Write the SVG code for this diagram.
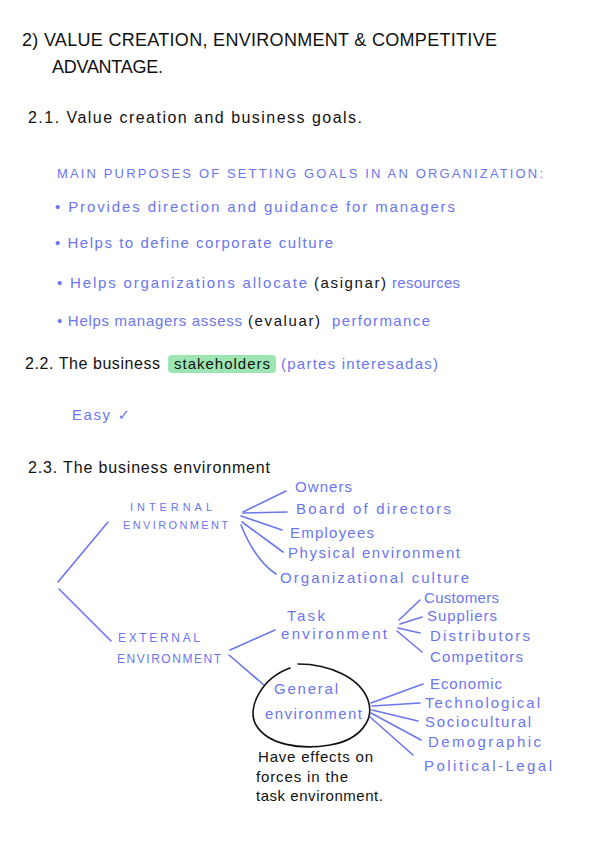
<svg xmlns="http://www.w3.org/2000/svg" width="600" height="848" viewBox="0 0 600 848">
<style>
text{font-family:"Liberation Sans","DejaVu Sans",sans-serif;}
.k{fill:#111;}
.b{fill:#6b76ef;}
.cap{font-size:13px;}
.s{font-size:15px;}
.c{stroke:#6b76ef;stroke-width:1.6;fill:none;stroke-linecap:round;}
</style>
<rect width="600" height="848" fill="#fff"/>
<g id="title">
<text class="k" x="22" y="46" font-size="18" textLength="475" lengthAdjust="spacing">2) VALUE   CREATION, ENVIRONMENT   &amp; COMPETITIVE</text>
<text class="k" x="52" y="73" font-size="18" textLength="111" lengthAdjust="spacing">ADVANTAGE.</text>
</g>
<g id="s21">
<text class="k" x="28" y="123" font-size="16" textLength="334" lengthAdjust="spacing">2.1. Value creation and business goals.</text>
<text class="b cap" x="57" y="178" textLength="486" lengthAdjust="spacing">MAIN PURPOSES OF SETTING GOALS IN AN ORGANIZATION:</text>
<text class="b s" x="55" y="212" textLength="400" lengthAdjust="spacing">• Provides direction and guidance for managers</text>
<text class="b s" x="55" y="248" textLength="278" lengthAdjust="spacing">• Helps to define corporate culture</text>
<text class="b s" x="57" y="288" textLength="250" lengthAdjust="spacing">• Helps organizations allocate</text>
<text class="k s" x="314" y="288" textLength="72" lengthAdjust="spacing">(asignar)</text>
<text class="b s" x="392" y="288" textLength="68" lengthAdjust="spacing">resources</text>
<text class="b s" x="57" y="326" textLength="185" lengthAdjust="spacing">• Helps managers assess</text>
<text class="k s" x="248" y="326" textLength="72" lengthAdjust="spacing">(evaluar)</text>
<text class="b s" x="332" y="326" textLength="98" lengthAdjust="spacing">performance</text>
</g>
<g id="s22">
<rect x="168" y="355" width="108" height="18" rx="4" fill="#9de6b4"/>
<text class="k" x="25" y="369" font-size="16" textLength="135" lengthAdjust="spacing">2.2. The   business</text>
<text class="k" x="174" y="369" font-size="15" textLength="96" lengthAdjust="spacing">stakeholders</text>
<text class="b s" x="281" y="369" textLength="157" lengthAdjust="spacing">(partes interesadas)</text>
<text class="b s" x="72" y="420" textLength="58" lengthAdjust="spacing">Easy ✓</text>
</g>
<g id="s23">
<text class="k" x="28" y="473" font-size="16" textLength="242" lengthAdjust="spacing">2.3. The business   environment</text>
</g>
<g id="connectors">
<path class="c" d="M108 522 L58 582"/>
<path class="c" d="M59 589 L111 641"/>
<path class="c" d="M243 512 L286 491"/>
<path class="c" d="M243 513 L287 512"/>
<path class="c" d="M241 516 L282 530"/>
<path class="c" d="M242 522 L283 552"/>
<path class="c" d="M241 525 Q255 560 276 574"/>
<path class="c" d="M230 650 L275 630"/>
<path class="c" d="M229 655 L264 685"/>
<path class="c" d="M399 620 L420 600"/>
<path class="c" d="M400 624 L422 617"/>
<path class="c" d="M398 628 L420 633"/>
<path class="c" d="M397 631 L422 652"/>
<path class="c" d="M371 703 L423 684"/>
<path class="c" d="M372 706 L420 703"/>
<path class="c" d="M372 710 L418 721"/>
<path class="c" d="M371 713 L421 740"/>
<path class="c" d="M370 717 L413 755"/>
</g>
<g id="internal">
<text class="b" x="130" y="511" font-size="11" textLength="82" lengthAdjust="spacing">INTERNAL</text>
<text class="b" x="123" y="529" font-size="11" textLength="105" lengthAdjust="spacing">ENVIRONMENT</text>
</g>
<g id="owners"><text class="b s" x="295" y="492" textLength="57" lengthAdjust="spacing">Owners</text></g>
<g id="board"><text class="b s" x="296" y="514" textLength="155" lengthAdjust="spacing">Board of directors</text></g>
<g id="employees"><text class="b s" x="290" y="538" textLength="84" lengthAdjust="spacing">Employees</text></g>
<g id="physical"><text class="b s" x="288" y="558" textLength="172" lengthAdjust="spacing">Physical   environment</text></g>
<g id="culture"><text class="b s" x="280" y="583" textLength="189" lengthAdjust="spacing">Organizational   culture</text></g>
<g id="external">
<text class="b" x="118" y="642" font-size="12" textLength="82" lengthAdjust="spacing">EXTERNAL</text>
<text class="b" x="117" y="663" font-size="12" textLength="104" lengthAdjust="spacing">ENVIRONMENT</text>
</g>
<g id="task">
<text class="b s" x="287" y="621" textLength="38" lengthAdjust="spacing">Task</text>
<text class="b s" x="281" y="639" textLength="106" lengthAdjust="spacing">environment</text>
</g>
<g id="customers"><text class="b s" x="424" y="603" textLength="75" lengthAdjust="spacing">Customers</text></g>
<g id="suppliers"><text class="b s" x="427" y="621" textLength="70" lengthAdjust="spacing">Suppliers</text></g>
<g id="distributors"><text class="b s" x="430" y="641" textLength="100" lengthAdjust="spacing">Distributors</text></g>
<g id="competitors"><text class="b s" x="430" y="662" textLength="93" lengthAdjust="spacing">Competitors</text></g>
<g id="general">
<path d="M290 668 C262 678 246 708 256 725 C268 745 300 750 330 745 C360 740 375 720 368 700 C360 678 330 664 298 664" fill="none" stroke="#111" stroke-width="1.6" stroke-linecap="round"/>
<text class="b s" x="274" y="694" textLength="64" lengthAdjust="spacing">General</text>
<text class="b s" x="265" y="719" textLength="97" lengthAdjust="spacing">environment</text>
</g>
<g id="economic"><text class="b s" x="430" y="689" textLength="72" lengthAdjust="spacing">Economic</text></g>
<g id="technological"><text class="b s" x="425" y="708" textLength="115" lengthAdjust="spacing">Technological</text></g>
<g id="sociocultural"><text class="b s" x="425" y="727" textLength="106" lengthAdjust="spacing">Sociocultural</text></g>
<g id="demographic"><text class="b s" x="428" y="747" textLength="113" lengthAdjust="spacing">Demographic</text></g>
<g id="political"><text class="b s" x="424" y="771" textLength="128" lengthAdjust="spacing">Political-Legal</text></g>
<g id="note">
<text class="k s" x="258" y="762" textLength="115" lengthAdjust="spacing">Have effects on</text>
<text class="k s" x="256" y="782" textLength="92" lengthAdjust="spacing">forces in the</text>
<text class="k s" x="256" y="801" textLength="127" lengthAdjust="spacing">task environment.</text>
</g>
</svg>
